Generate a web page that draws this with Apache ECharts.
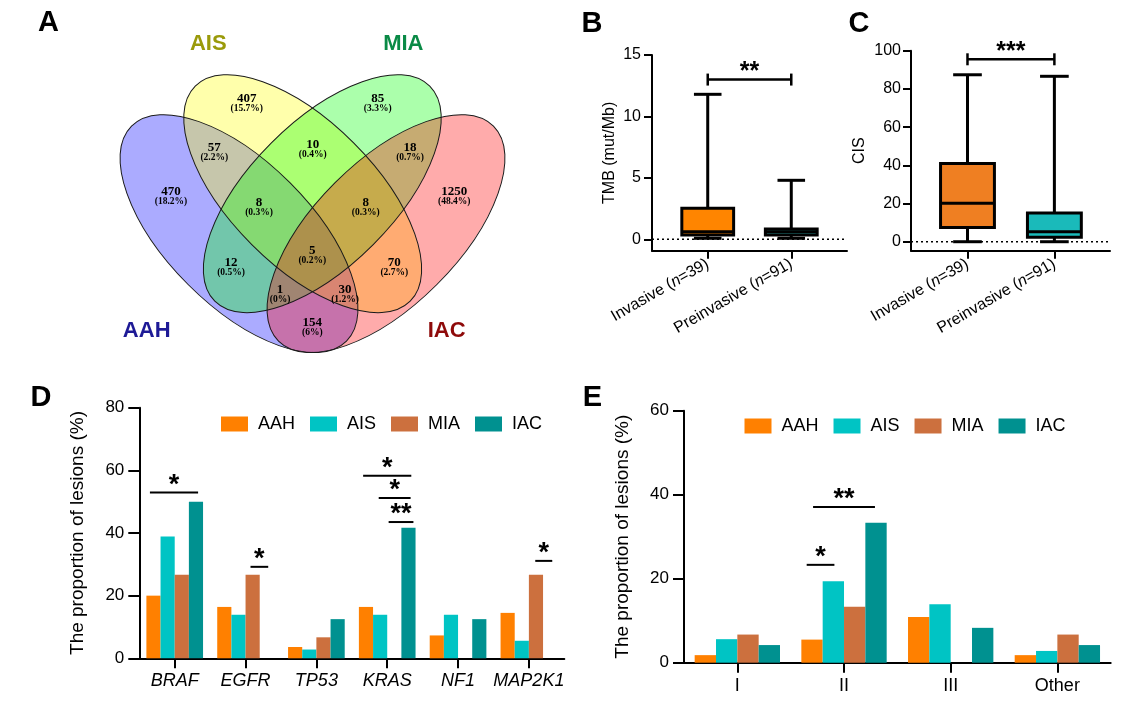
<!DOCTYPE html>
<html><head><meta charset="utf-8">
<script src="https://cdn.jsdelivr.net/npm/echarts@6/dist/echarts.min.js"></script>
<style>html,body{margin:0;padding:0;background:#fff}#c{width:1131px;height:712px}</style>
</head><body><div id="c"></div>
<script>
// ---------------- data ----------------
const groups = ['AAH', 'AIS', 'MIA', 'IAC'];
const groupColors = ['#FF8000', '#00C4C4', '#CC703E', '#009190'];

const genes = ['BRAF', 'EGFR', 'TP53', 'KRAS', 'NF1', 'MAP2K1'];
const geneAAH = [20.0, 16.4, 3.6, 16.4, 7.3, 14.5];
const geneAIS = [38.9, 13.9, 2.8, 13.9, 13.9, 5.6];
const geneMIA = [26.7, 26.7, 6.7, 0, 0, 26.7];
const geneIAC = [50.0, 0, 12.5, 41.7, 12.5, 0];

const stages = ['I', 'II', 'III', 'Other'];
const stageAAH = [1.8, 5.5, 10.9, 1.8];
const stageAIS = [5.6, 19.4, 13.9, 2.8];
const stageMIA = [6.7, 13.3, 0, 6.7];
const stageIAC = [4.2, 33.3, 8.3, 4.2];

const boxCats = ['Invasive', 'Preinvasive'];
const boxN = [39, 91];
// [min, q1, median, q3, max]
const tmbBox = [[0.08, 0.35, 0.62, 2.52, 11.8], [0.08, 0.35, 0.62, 0.84, 4.8]];
const cisBox = [[0, 7.5, 20.2, 41.0, 87.4], [0, 2.3, 5.2, 15.0, 86.6]];
const tmbTicks = [0, 5, 10, 15];
const cisTicks = [0, 20, 40, 60, 80, 100];

// significance brackets: [from, to, height, label]
const tmbSig = [[0, 1, 13.0, '**']];
const cisSig = [[0, 1, 95.5, '***']];
const geneSig = [[-0.35, 0.33, 52.9, '*'], [1.07, 1.32, 29.2, '*'], [2.66, 3.34, 58.3, '*'],
                 [2.88, 3.33, 51.2, '*'], [3.02, 3.37, 43.5, '**'], [5.09, 5.33, 31.1, '*']];
const stageSig = [[0.65, 0.91, 23.3, '*'], [0.71, 1.29, 37.1, '**']];

const vennSets = ['AAH', 'AIS', 'MIA', 'IAC'];
const vennCounts = [470, 407, 85, 1250, 57, 10, 18, 8, 8, 5, 12, 70, 1, 30, 154];
const vennPct = ['18.2%', '15.7%', '3.3%', '48.4%', '2.2%', '0.4%', '0.7%', '0.3%', '0.3%', '0.2%', '0.5%', '2.7%', '0%', '1.2%', '6%'];

// ---------------- layout ----------------
const FONT = '"Liberation Sans", Arial, Helvetica, sans-serif';
const SERIF = '"Liberation Serif", "Times New Roman", serif';
const vennEll = [[239, 233.6, -Math.PI / 4], [302.7, 193.7, -Math.PI / 4], [322.3, 193.7, Math.PI / 4], [386, 233.6, Math.PI / 4]];
const vennR = [152, 72];
const vennFill = ['rgba(0,0,255,0.33)', 'rgba(255,255,0,0.33)', 'rgba(0,255,0,0.33)', 'rgba(255,0,0,0.33)'];
const vennSetPos = [[146.7, 331], [208.3, 44], [403.3, 44], [446.7, 331]];
const vennSetColor = ['#1E1A96', '#9A9A0A', '#0A8A46', '#8E0A0A'];
const vennLabelPos = [[171, 191.7], [246.7, 99], [377.7, 99], [454.3, 191.7], [214.3, 147.7], [312.7, 145],
  [410, 147.7], [259, 202.3], [365.7, 202.3], [312.3, 251], [231, 262.3], [394.3, 262.3], [280, 290], [345, 290], [312.3, 322.3]];
const tmbX = [-0.667, 1.667];
const cisX = [-0.65, 1.64];

const graphic = [];
vennEll.forEach((e, i) => graphic.push({type: 'ellipse', x: e[0], y: e[1], rotation: e[2], silent: true,
  shape: {cx: 0, cy: 0, rx: vennR[0], ry: vennR[1]}, style: {fill: vennFill[i]}}));
vennEll.forEach((e, i) => graphic.push({type: 'ellipse', x: e[0], y: e[1], rotation: e[2], silent: true,
  shape: {cx: 0, cy: 0, rx: vennR[0], ry: vennR[1]}, style: {fill: 'none', stroke: '#1a1a1a', lineWidth: 1}}));
vennCounts.forEach((c, i) => {
  const p = vennLabelPos[i];
  graphic.push({type: 'text', x: p[0], y: p[1], silent: true,
    style: {text: String(c), font: 'bold 13px ' + SERIF, fill: '#000', textAlign: 'center', textVerticalAlign: 'middle'}});
  graphic.push({type: 'text', x: p[0], y: p[1] + 10, silent: true,
    style: {text: '(' + vennPct[i] + ')', font: 'bold 9.5px ' + SERIF, fill: '#000', textAlign: 'center', textVerticalAlign: 'middle'}});
});
vennSets.forEach((s, i) => graphic.push({type: 'text', x: vennSetPos[i][0], y: vennSetPos[i][1], silent: true,
  style: {text: s, font: 'bold 22px ' + FONT, fill: vennSetColor[i], textAlign: 'center', textVerticalAlign: 'middle'}}));
[['A', 48.5, 23], ['B', 592, 23.5], ['C', 859, 23.5], ['D', 41, 397.5], ['E', 592.5, 397.5]].forEach(l =>
  graphic.push({type: 'text', x: l[1], y: l[2], silent: true,
    style: {text: l[0], font: 'bold 29px ' + FONT, fill: '#000', textAlign: 'center', textVerticalAlign: 'middle'}}));

// ---------------- helpers ----------------
const BLK = '#000';
const axLine = {show: true, onZero: false, lineStyle: {color: BLK, width: 2}};
function valY(grid, min, max, ticks, name, gap, fs, tickLen, margin, nameFs) {
  return {gridIndex: grid, type: 'value', min: min, max: max,
    axisLine: axLine,
    axisTick: {show: true, length: tickLen, customValues: ticks, lineStyle: {color: BLK, width: 2}},
    axisLabel: {customValues: ticks, fontSize: fs, color: BLK, margin: margin, fontFamily: FONT},
    splitLine: {show: false},
    name: name, nameLocation: 'middle', nameGap: gap,
    nameTextStyle: {fontSize: nameFs, color: BLK, fontFamily: FONT}};
}
function boxX(grid, ext) {
  return {gridIndex: grid, type: 'value', min: ext[0], max: ext[1],
    axisLine: axLine,
    axisTick: {show: true, length: 8, customValues: [0, 1], lineStyle: {color: BLK, width: 2}},
    axisLabel: {customValues: [0, 1], rotate: 30, margin: 12, fontSize: 16, color: BLK, fontFamily: FONT,
      formatter: v => boxCats[Math.round(v)] + ' ({i|n}=' + boxN[Math.round(v)] + ')',
      rich: {i: {fontStyle: 'italic', fontSize: 16, fontFamily: FONT, color: BLK}}},
    splitLine: {show: false}};
}
function boxSeries(xi, yi, rows, fills) {
  return {type: 'custom', xAxisIndex: xi, yAxisIndex: yi, z: 5,
    data: rows.map((r, i) => [i].concat(r)),
    renderItem: function (params, api) {
      const x = api.value(0);
      const pMin = api.coord([x, api.value(1)]);
      const pQ1 = api.coord([x, api.value(2)]);
      const pMed = api.coord([x, api.value(3)]);
      const pQ3 = api.coord([x, api.value(4)]);
      const pMax = api.coord([x, api.value(5)]);
      const bw = api.size([0.62, 0])[0];
      const cw = api.size([0.33, 0])[0];
      const cx = pMed[0];
      const ls = {stroke: BLK, lineWidth: 3};
      return {type: 'group', children: [
        {type: 'line', shape: {x1: cx, y1: pMax[1], x2: cx, y2: pMin[1]}, style: ls},
        {type: 'rect', shape: {x: cx - bw / 2, y: pQ3[1], width: bw, height: pQ1[1] - pQ3[1]},
          style: {fill: fills[params.dataIndex], stroke: BLK, lineWidth: 3}},
        {type: 'line', shape: {x1: cx - bw / 2, y1: pMed[1], x2: cx + bw / 2, y2: pMed[1]}, style: ls},
        {type: 'line', shape: {x1: cx - cw / 2, y1: pMax[1], x2: cx + cw / 2, y2: pMax[1]}, style: ls},
        {type: 'line', shape: {x1: cx - cw / 2, y1: pMin[1], x2: cx + cw / 2, y2: pMin[1]}, style: ls}
      ]};
    }};
}
function sigSeries(xi, yi, rows, fs, ends, lw) {
  return {type: 'custom', xAxisIndex: xi, yAxisIndex: yi, z: 6,
    data: rows.map(r => [r[0], r[1], r[2]]),
    renderItem: function (params, api) {
      const p1 = api.coord([api.value(0), api.value(2)]);
      const p2 = api.coord([api.value(1), api.value(2)]);
      const ch = [{type: 'line', shape: {x1: p1[0], y1: p1[1], x2: p2[0], y2: p1[1]}, style: {stroke: BLK, lineWidth: lw}},
        {type: 'text', style: {text: rows[params.dataIndex][3], x: (p1[0] + p2[0]) / 2, y: p1[1] - 7,
          font: 'bold ' + fs + 'px ' + FONT, fill: BLK, textAlign: 'center', textVerticalAlign: 'middle'}}];
      if (ends) {
        ch.push({type: 'line', shape: {x1: p1[0], y1: p1[1] - 6, x2: p1[0], y2: p1[1] + 6}, style: {stroke: BLK, lineWidth: lw}});
        ch.push({type: 'line', shape: {x1: p2[0], y1: p1[1] - 6, x2: p2[0], y2: p1[1] + 6}, style: {stroke: BLK, lineWidth: lw}});
      }
      return {type: 'group', children: ch};
    }};
}
function zeroLine(xi, yi, ext) {
  return {type: 'line', xAxisIndex: xi, yAxisIndex: yi, data: [[ext[0], 0], [ext[1], 0]], symbol: 'none', silent: true, z: 2,
    lineStyle: {color: BLK, width: 1.5, type: [2, 3]}};
}
function catX(grid, cats, italic) {
  return {gridIndex: grid, type: 'category', data: cats,
    axisLine: {show: true, lineStyle: {color: BLK, width: 2}},
    axisTick: {show: true, alignWithLabel: true, length: 10, lineStyle: {color: BLK, width: 2}},
    axisLabel: {fontSize: 18, color: BLK, margin: 14, fontStyle: italic ? 'italic' : 'normal', fontFamily: FONT, interval: 0},
    splitLine: {show: false}};
}
function bars(xi, yi, arrs) {
  return arrs.map((a, i) => ({type: 'bar', name: groups[i], xAxisIndex: xi, yAxisIndex: yi, data: a,
    barGap: '0%', barCategoryGap: '20%', itemStyle: {color: groupColors[i]}}));
}
const legendCommon = {data: groups, icon: 'rect', itemWidth: 27, itemHeight: 15, itemGap: 15, orient: 'horizontal',
  formatter: n => ' ' + n, textStyle: {fontSize: 18, color: BLK, fontFamily: FONT}, selectedMode: false};

const option = {
  animation: false,
  backgroundColor: '#fff',
  textStyle: {fontFamily: FONT},
  graphic: graphic,
  legend: [Object.assign({left: 216, top: 410}, legendCommon), Object.assign({left: 739.5, top: 412}, legendCommon)],
  grid: [
    {left: 652, top: 55, width: 195, height: 195.7},
    {left: 911, top: 50.7, width: 199, height: 200},
    {left: 139.3, top: 407.7, width: 425, height: 250.6},
    {left: 684, top: 410.7, width: 426.7, height: 252}
  ],
  xAxis: [
    boxX(0, tmbX),
    boxX(1, cisX),
    catX(2, genes, true),
    {gridIndex: 2, type: 'value', min: -0.5, max: genes.length - 0.5, show: false},
    catX(3, stages, false),
    {gridIndex: 3, type: 'value', min: -0.5, max: stages.length - 0.5, show: false}
  ],
  yAxis: [
    valY(0, -0.93, 15, tmbTicks, 'TMB (mut/Mb)', 34, 16, 8, 11, 16),
    valY(1, -4.7, 100, cisTicks, 'CIS', 43, 16, 8, 10, 16),
    Object.assign(valY(2, 0, 80, [0, 20, 40, 60, 80], 'The proportion of lesions (%)', 52, 17, 11, 15, 19), {interval: 20}),
    Object.assign(valY(3, 0, 60, [0, 20, 40, 60], 'The proportion of lesions (%)', 52, 17, 11, 15, 19), {interval: 20})
  ],
  series: [
    zeroLine(0, 0, tmbX),
    boxSeries(0, 0, tmbBox, ['#FF8500', '#2AA2A2']),
    sigSeries(0, 0, tmbSig, 25, true, 2.5),
    zeroLine(1, 1, cisX),
    boxSeries(1, 1, cisBox, ['#EF7F22', '#1ABABA']),
    sigSeries(1, 1, cisSig, 25, true, 2.5),
    ...bars(2, 2, [geneAAH, geneAIS, geneMIA, geneIAC]),
    sigSeries(3, 2, geneSig, 27, false, 2),
    ...bars(4, 3, [stageAAH, stageAIS, stageMIA, stageIAC]),
    sigSeries(5, 3, stageSig, 27, false, 2)
  ]
};
const chart = echarts.init(document.getElementById('c'));
chart.setOption(option);
</script>
</body></html>
